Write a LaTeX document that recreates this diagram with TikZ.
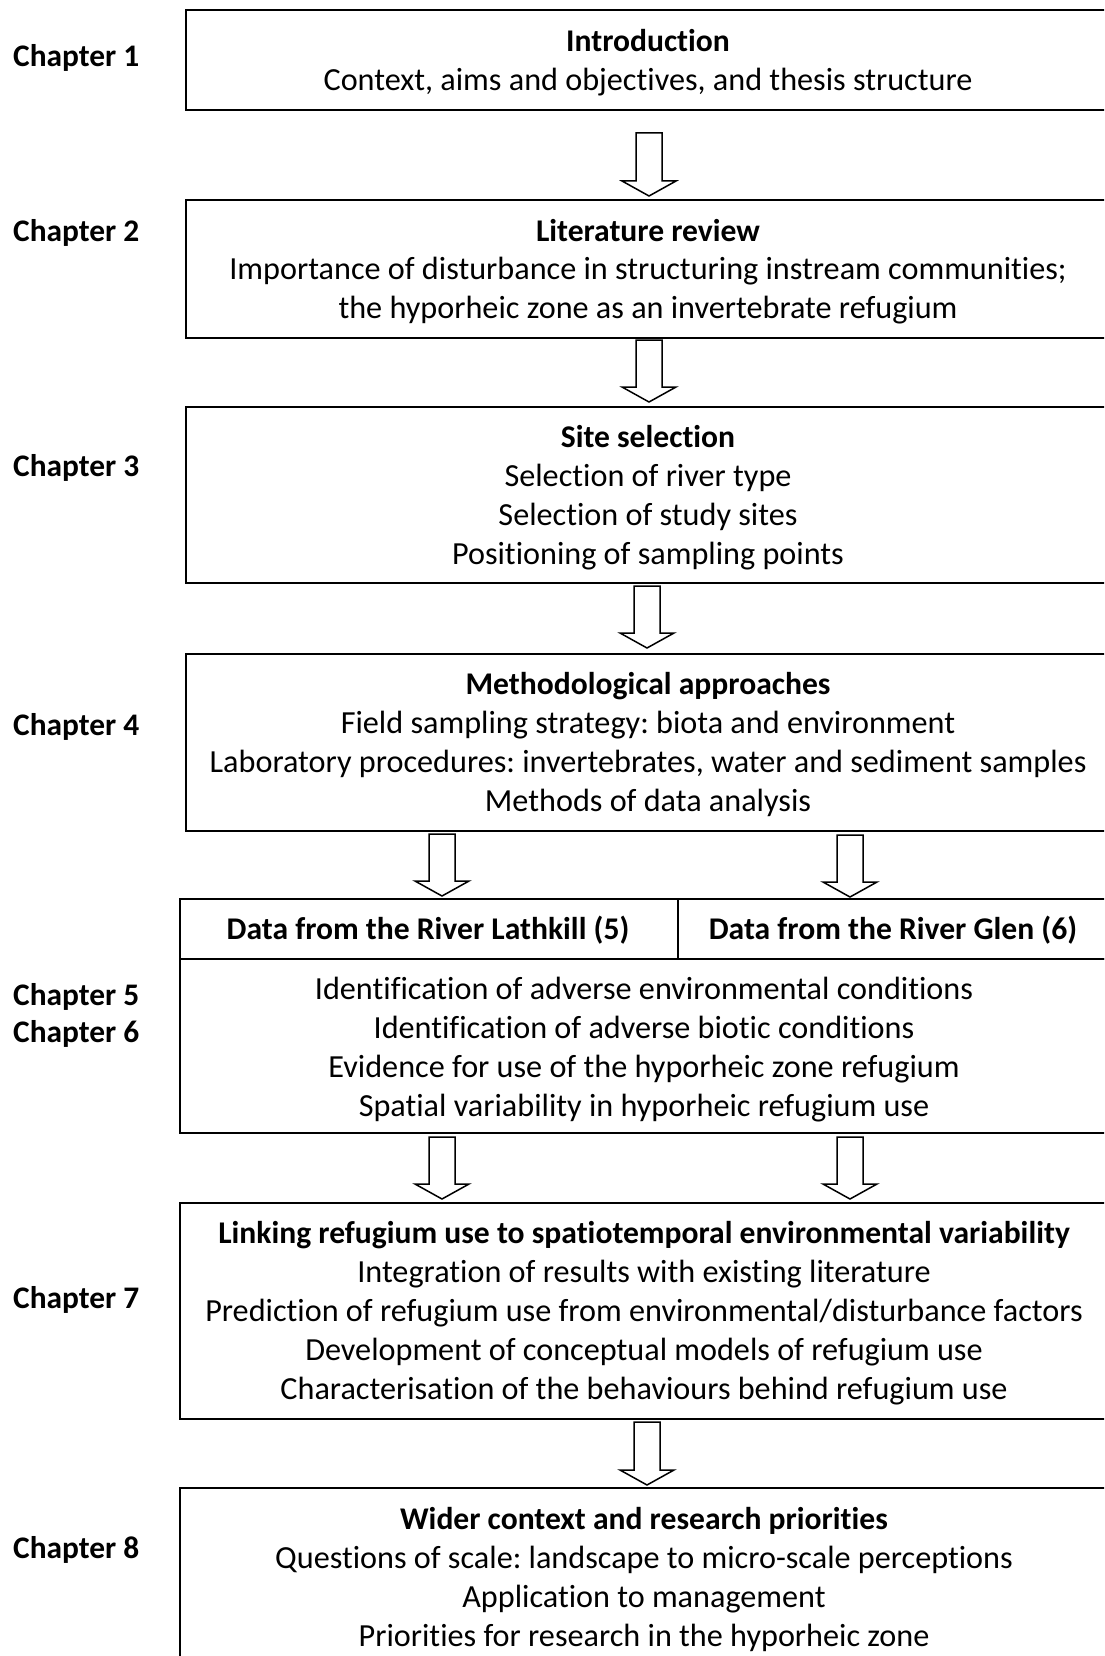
\documentclass[tikz,border=0pt]{standalone}
\usepackage{fontspec}
\setmainfont{Carlito}[Ligatures=NoCommon]
\frenchspacing
\usetikzlibrary{calc}
\tikzset{
  boxnode/.style={draw=black, line width=2pt, rectangle, inner sep=0pt, anchor=north west},
  txt/.style={font=\fontsize{32.2}{39}\selectfont, inner sep=0pt, anchor=base, text=black},
  ttl/.style={txt, font=\fontsize{31.6}{39}\selectfont\bfseries},
  chap/.style={font=\fontsize{31.4}{39}\selectfont\bfseries, inner sep=0pt, anchor=base west, text=black},
  blk/.style={draw=black, line width=1.5pt, fill=white, line join=miter},
}
\newcommand{\blockarr}[2]{\path[blk] let \p1=(#1), \p2=(#2) in
  (\x1-13pt,\y1) -- (\x1+13pt,\y1) -- (\x1+13pt,\y2+15pt) -- (\x1+27pt,\y2+15pt)
  -- (\x1,\y2) -- (\x1-27pt,\y2+15pt) -- (\x1-13pt,\y2+15pt) -- cycle;}
\begin{document}
\begin{tikzpicture}[x=1pt,y=-1pt]
\useasboundingbox (0,0) rectangle (1104,1656);
\clip (0,0) rectangle (1104,1656);
\fill[white] (0,0) rectangle (1104,1656);

% chapter labels
\node[chap] (c1) at (13,67) {Chapter 1};
\node[chap] (c2) at (13,241) {Chapter 2};
\node[chap] (c3) at (13,476) {Chapter 3};
\node[chap] (c4) at (13,735) {Chapter 4};
\node[chap] (c5) at (13,1005) {Chapter 5};
\node[chap] (c6) at (13,1042) {Chapter 6};
\node[chap] (c7) at (13,1308) {Chapter 7};
\node[chap] (c8) at (13,1558) {Chapter 8};

% box 1
\node[boxnode, minimum width=925pt, minimum height=100pt] (b1) at (185,9) {};
\node[ttl] (b1t) at (648,52) {Introduction};
\node[txt] (b1a) at (648,91) {Context, aims and objectives, and thesis structure};

% box 2
\node[boxnode, minimum width=925pt, minimum height=138pt] (b2) at (185,199) {};
\node[ttl] (b2t) at (648,241) {Literature review};
\node[txt] (b2a) at (648,279) {Importance of disturbance in structuring instream communities;};
\node[txt] (b2b) at (648,318) {the hyporheic zone as an invertebrate refugium};

% box 3
\node[boxnode, minimum width=925pt, minimum height=176pt] (b3) at (185,406) {};
\node[ttl] (b3t) at (648,447) {Site selection};
\node[txt] (b3a) at (648,486) {Selection of river type};
\node[txt] (b3b) at (648,525) {Selection of study sites};
\node[txt] (b3c) at (648,564) {Positioning of sampling points};

% box 4
\node[boxnode, minimum width=925pt, minimum height=177pt] (b4) at (185,653) {};
\node[ttl] (b4t) at (648,694) {Methodological approaches};
\node[txt] (b4a) at (648,733) {Field sampling strategy: biota and environment};
\node[txt] (b4b) at (648,772) {Laboratory procedures: invertebrates, water and sediment samples};
\node[txt] (b4c) at (648,811) {Methods of data analysis};

% box 5/6
\node[boxnode, minimum width=498pt, minimum height=60pt] (h5) at (179,898) {};
\node[boxnode, minimum width=433pt, minimum height=60pt] (h6) at (677,898) {};
\node[boxnode, minimum width=931pt, minimum height=174pt] (b5) at (179,958) {};
\node[ttl] (h5t) at (428,939) {Data from the River Lathkill (5)};
\node[ttl] (h6t) at (893,939) {Data from the River Glen (6)};
\node[txt] (b5a) at (644,999) {Identification of adverse environmental conditions};
\node[txt] (b5b) at (644,1038) {Identification of adverse biotic conditions};
\node[txt] (b5c) at (644,1077) {Evidence for use of the hyporheic zone refugium};
\node[txt] (b5d) at (644,1116) {Spatial variability in hyporheic refugium use};

% box 7
\node[boxnode, minimum width=931pt, minimum height=216pt] (b7) at (179,1202) {};
\node[ttl] (b7t) at (644,1243) {Linking refugium use to spatiotemporal environmental variability};
\node[txt] (b7a) at (644,1282) {Integration of results with existing literature};
\node[txt] (b7b) at (644,1321) {Prediction of refugium use from environmental/disturbance factors};
\node[txt] (b7c) at (644,1360) {Development of conceptual models of refugium use};
\node[txt] (b7d) at (644,1399) {Characterisation of the behaviours behind refugium use};

% box 8
\node[boxnode, minimum width=931pt, minimum height=230pt] (b8) at (179,1487) {};
\node[ttl] (b8t) at (644,1529) {Wider context and research priorities};
\node[txt] (b8a) at (644,1568) {Questions of scale: landscape to micro-scale perceptions};
\node[txt] (b8b) at (644,1607) {Application to management};
\node[txt] (b8c) at (644,1646) {Priorities for research in the hyporheic zone};

% arrows
\coordinate (a1s) at (649,133); \coordinate (a1e) at (649,196);
\coordinate (a2s) at (649,340); \coordinate (a2e) at (649,402);
\coordinate (a3s) at (647,586); \coordinate (a3e) at (647,648);
\coordinate (a4ls) at (442,834); \coordinate (a4le) at (442,896);
\coordinate (a4rs) at (850,835); \coordinate (a4re) at (850,897);
\coordinate (a5ls) at (442,1137); \coordinate (a5le) at (442,1199);
\coordinate (a5rs) at (850,1137); \coordinate (a5re) at (850,1199);
\coordinate (a6s) at (647,1422); \coordinate (a6e) at (647,1485);
\blockarr{a1s}{a1e}
\blockarr{a2s}{a2e}
\blockarr{a3s}{a3e}
\blockarr{a4ls}{a4le}
\blockarr{a4rs}{a4re}
\blockarr{a5ls}{a5le}
\blockarr{a5rs}{a5re}
\blockarr{a6s}{a6e}
\end{tikzpicture}
\end{document}
